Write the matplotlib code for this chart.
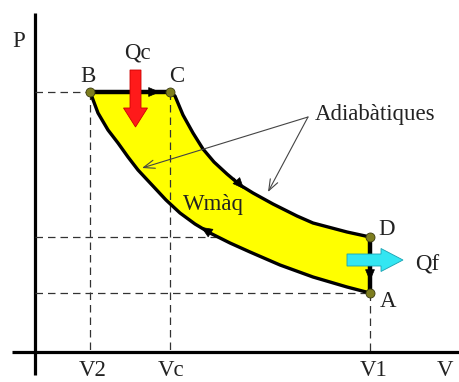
import matplotlib
matplotlib.use("Agg")
import matplotlib.pyplot as plt
from matplotlib.patches import Polygon, FancyArrow

# cycle corners (drawing units = pixels of the original sketch, y downwards)
pt_names = ['A', 'B', 'C', 'D']
pt_x = [370, 90, 170, 370]
pt_y = [293, 92, 92, 237]

# upper adiabat C -> D
up_x = [170, 175, 183, 193, 203, 214, 227, 240, 253, 273, 297, 313, 347, 370]
up_y = [92, 96, 115, 133, 149, 162, 174, 185, 193, 204, 216, 223, 232, 237]
# lower adiabat A -> B (stored from B to A)
lo_x = [90, 92, 98, 108, 118, 128, 138, 152, 166, 180, 195, 210, 230, 250, 280, 313, 347, 370]
lo_y = [92, 97, 113, 130, 143, 157, 170, 185, 200, 213, 224, 233, 243, 252, 265, 277, 287, 293]

# volume / pressure reference marks
vol_names = ['V2', 'Vc', 'V1', 'V']
vol_x = [93, 171, 374, 445]
press_y = [92, 237, 293]
press_x_end = [90, 370, 370]

x_axis_y = 352
y_axis_x = 35

fig = plt.figure(figsize=(4.59, 3.82), dpi=100)
ax = fig.add_axes([0, 0, 1, 1])
ax.set_xlim(0, 459)
ax.set_ylim(382, 0)
ax.axis('off')

font = dict(family='Liberation Serif', size=16.5, color='#222222')

# axes
ax.plot([y_axis_x, y_axis_x], [13, 375], color='k', lw=2.3, solid_capstyle='butt')
ax.plot([12, 459], [x_axis_y, x_axis_y], color='k', lw=2.3, solid_capstyle='butt')

# dashed guides
dash = dict(color='#333333', lw=0.9, ls=(0, (6, 4)))
for py, px in zip(press_y, press_x_end):
    ax.plot([y_axis_x, px], [py, py], **dash)
for vx, vy in zip([90, 370], [92, 293]):
    ax.plot([vx, vx], [vy, x_axis_y], **dash, zorder=4)

# yellow cycle area
poly_x = up_x + lo_x[::-1]
poly_y = up_y + lo_y[::-1]
ax.add_patch(Polygon(list(zip(poly_x, poly_y)), closed=True, facecolor='#ffff00',
                     edgecolor='none', zorder=2))
ax.plot([170, 170], [92, x_axis_y], **dash, zorder=3)

# cycle lines
ax.plot(up_x, up_y, color='k', lw=2.4, zorder=5, solid_joinstyle='round')
ax.plot(lo_x, lo_y, color='k', lw=2.4, zorder=5, solid_joinstyle='round')
ax.plot([pt_x[1], pt_x[2]], [pt_y[1], pt_y[2]], color='k', lw=3.2, zorder=5)
ax.plot([pt_x[3], pt_x[0]], [pt_y[3], pt_y[0]], color='k', lw=3.2, zorder=5)

# direction arrows
dirs = [((148, 92), (160, 92)), ((234, 178), (244, 189)),
        ((370, 268), (370, 281)), ((212, 234), (201, 227))]
for tail, tip in dirs:
    ax.annotate('', xy=tip, xytext=tail,
                arrowprops=dict(arrowstyle='-|>,head_length=0.75,head_width=0.32',
                                color='k', lw=0.5, shrinkA=0, shrinkB=0),
                zorder=6)

# corner points
ax.plot(pt_x, pt_y, 'o', ms=6.5, mfc='#7d7d1e', mec='#3a3a10', mew=0.6, zorder=7)

# heat arrows
ax.add_patch(FancyArrow(135.5, 70, 0, 57, width=11, head_width=24, head_length=19,
                        length_includes_head=True, facecolor='#ff1a1a',
                        edgecolor='#cc0000', lw=0.6, zorder=8))
ax.add_patch(FancyArrow(347, 260, 56, 0, width=12, head_width=23, head_length=22,
                        length_includes_head=True, facecolor='#33e6f2',
                        edgecolor='#1aa0b0', lw=0.6, zorder=8))

# adiabat labels
for tip in [(142, 168), (268, 192)]:
    ax.annotate('', xy=tip, xytext=(308, 117),
                arrowprops=dict(arrowstyle='->,head_length=0.8,head_width=0.3',
                                color='#444444', lw=0.8, shrinkA=0, shrinkB=0),
                zorder=9)
ax.text(315, 120, 'Adiabàtiques', ha='left', va='baseline', **font)

# text labels
ax.text(19, 47, 'P', ha='center', va='baseline', **font)
ax.text(88, 82, 'B', ha='center', va='baseline', **font)
ax.text(177, 82, 'C', ha='center', va='baseline', **font)
ax.text(387, 235, 'D', ha='center', va='baseline', **font)
ax.text(388, 307, 'A', ha='center', va='baseline', **font)
ax.text(137, 58, 'Qc', ha='center', va='baseline', **font)
ax.text(427, 270, 'Qf', ha='center', va='baseline', **font)
ax.text(213, 210, 'Wmàq', ha='center', va='baseline', zorder=9, **font)
# the original crops these labels at the bottom edge; keep them just inside
for name, vx in zip(vol_names, vol_x):
    ax.text(vx, 381, name, ha='center', va='bottom', **font)

fig.savefig('out.png', dpi=100)
